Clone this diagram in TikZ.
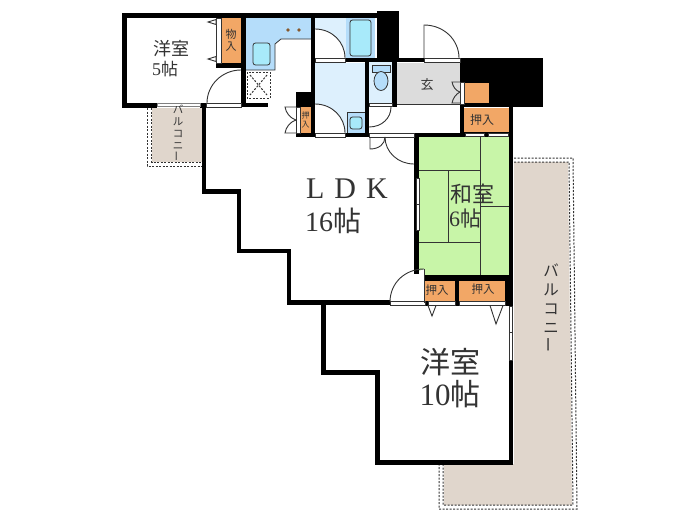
\documentclass[tikz,border=0pt]{standalone}
\usepackage{graphicx}
\usepackage{fontspec}
\setmainfont{Liberation Serif}
\newfontfamily\jp{Noto Sans CJK JP}
\definecolor{orangeC}{HTML}{F2A766}
\definecolor{kitchenC}{HTML}{B5DDFA}
\definecolor{paleC}{HTML}{DDF0FD}
\definecolor{cyanC}{HTML}{A8EAFA}
\definecolor{genkanC}{HTML}{DCDCDC}
\definecolor{balconyC}{HTML}{E0D6CC}
\definecolor{tatamiC}{HTML}{C8F5A8}
\definecolor{inkC}{HTML}{333333}
\tikzset{
  wall/.style={fill=black},
  opening/.style={fill=white,draw=inkC,line width=.6pt},
  glass/.style={fill=white,draw=gray,line width=.6pt},
  leaf/.style={draw=inkC,line width=.9pt},
  thinline/.style={draw=inkC,line width=.8pt},
  dots/.style={draw=inkC,line width=1pt,dash pattern=on 2pt off 1.5pt},
  roomlabel/.style={text=inkC,inner sep=0pt,align=center},
  fixture/.style={draw=inkC,line width=.8pt,rounded corners=2.5pt,fill=cyanC},
  tatamiline/.style={draw=inkC,line width=.7pt}
}
\begin{document}
\begin{tikzpicture}[x=1pt,y=-1pt]
\useasboundingbox (0,0) rectangle (700,525);
\fill[white] (0,0) rectangle (700,525);
% balconies
\fill[balconyC] (152,108) rectangle (202,162);
\draw[dots] (147,108) -- (147,166) -- (202,166);
\draw[dots] (151.5,108) -- (151.5,162) -- (202,162);
\fill[balconyC] (514,162) -- (568,162) -- (572,505) -- (444,505) -- (444,464) -- (514,464) -- cycle;
\draw[dots] (514,158) -- (573,158) -- (577,509) -- (439,509) -- (439,465);
\draw[dots] (514,162) -- (569,162) -- (573,505) -- (443,505) -- (443,465);
% pale rooms and fills
\fill[kitchenC] (246,18) -- (311,18) -- (311,39) -- (281,39) -- (275,44) -- (275,70) -- (246,70) -- cycle;
\draw[thinline] (311,39) -- (281,39) -- (275,44) -- (275,70) -- (246,70);
\fill[paleC] (315,18) rectangle (346,58);
\fill[kitchenC] (346,18) rectangle (375,58);
\fill[paleC] (315,63) rectangle (365,133);
\fill[paleC] (369,62) rectangle (392,104);
\fill[genkanC] (397,63) rectangle (460,104);
\draw[thinline] (397,104.5) -- (460,104.5);
\fill[tatamiC] (419,137) rectangle (509,275);
\fill[orangeC] (221,18) rectangle (241,63);
\fill[orangeC] (300,107) rectangle (311,133);
\fill[orangeC] (464,108) rectangle (509,132);
\fill[orangeC] (425,281) rectangle (455,301);
\fill[orangeC] (459,281) rectangle (509,301);
% door swing interiors
\fill[white] (315,29) .. controls (332,29) and (345,42) .. (345,58) -- (315,58) -- cycle;
\fill[white] (315,104) .. controls (332,104) and (345,117) .. (345,133) -- (315,133) -- cycle;
% tatami lines
\draw[tatamiline] (480,137) -- (480,275);
\draw[tatamiline] (419,170) -- (480,170);
\draw[tatamiline] (419,242) -- (480,242);
\draw[tatamiline] (448,170) -- (448,242);
\draw[tatamiline] (480,206) -- (509,206);
% fixtures
\draw[fixture] (253,43) rectangle (270,65);
\fill[brown!70!black] (288,30) circle (1.8pt);
\fill[brown!70!black] (299,30) circle (1.8pt);
\draw[fixture] (350,20) rectangle (371,56);
\fill[kitchenC] (347,112) rectangle (365,133);
\draw[thinline] (347,112) rectangle (365,133);
\draw[fixture] (350,117) rectangle (362,129);
\fill[kitchenC,draw=inkC,line width=.6pt] (372,65) rectangle (390,72);
\fill[kitchenC,draw=inkC,line width=.8pt] (381,81) ellipse (7pt and 9.5pt);
% utility pan
\draw[dots] (247,72) rectangle (270,98);
\draw[dots] (250,75) -- (267,95);
\draw[dots] (267,75) -- (250,95);
% walls
\fill[wall] (122,13) rectangle (377,18);
\fill[wall] (122,13) rectangle (127,108);
\fill[wall] (122,103) rectangle (157,108);
\fill[wall] (200,103) rectangle (206,108);
\fill[wall] (216,63) rectangle (241,67.5);
\fill[wall] (241,18) rectangle (246,107);
\fill[wall] (241,103) rectangle (268,107);
\fill[wall] (202,107) rectangle (206,194);
\fill[wall] (202,189) rectangle (241,194);
\fill[wall] (237,189) rectangle (241,253);
\fill[wall] (237,249) rectangle (291,253);
\fill[wall] (287,249) rectangle (291,305);
\fill[wall] (287,300) rectangle (390,305);
\fill[wall] (321,305) rectangle (326,375);
\fill[wall] (321,370) rectangle (380,375);
\fill[wall] (375,370) rectangle (380,464);
\fill[wall] (375,460) rectangle (513,464.5);
\fill[wall] (311,18) rectangle (315,137);
\fill[wall] (296,92) rectangle (315,107);
\fill[wall] (296,107) rectangle (300,137);
\fill[wall] (296,133) rectangle (315,137);
\fill[wall] (377,11) rectangle (399,62);
\fill[wall] (345,58) rectangle (424,62);
\fill[wall] (345,133) rectangle (369,137);
\fill[wall] (365,62) rectangle (369,137);
\fill[wall] (392,60) rectangle (397,107);
\fill[wall] (460,58) rectangle (543,107);
\fill[wall] (460,104) rectangle (464,137);
\fill[wall] (414,133) rectangle (464,137);
\fill[wall] (414,133) rectangle (419,274);
\fill[wall] (509,107) rectangle (513,464);
\fill[wall] (464,132) rectangle (509,137);
\fill[wall] (424,275) rectangle (513,281);
\fill[wall] (425,301) rectangle (513,305.5);
\fill[wall] (455,281) rectangle (459,305);
\fill[wall] (505,281) rectangle (509,305);
% orange closet inside black block
\fill[orangeC] (464,83) rectangle (489,103);
% openings
\draw[opening] (216,18) rectangle (221,63);
\draw[glass] (157,103.5) rectangle (200,106.5);
\draw[opening] (206,103.5) rectangle (241,107);
\draw[opening] (315,58.5) rectangle (345,62);
\draw[opening] (424,58.5) rectangle (460,62);
\draw[opening] (315,133.5) rectangle (345,137);
\draw[opening] (369,103.5) rectangle (392,106.5);
\draw[opening] (369,133.5) rectangle (414,137);
\draw[opening] (460,82) rectangle (464,104);
\draw[opening] (465,133.5) rectangle (484,136.5);
\draw[opening] (488,133.5) rectangle (508,136.5);
\draw[opening] (416.5,178) rectangle (419,204);
\draw[opening] (416.5,204) rectangle (419,230);
\draw[opening] (390,301.5) rectangle (425,305);
\draw[opening] (428,301.5) rectangle (455,305);
\draw[opening] (459,301.5) rectangle (505,305);
\draw[opening] (509.5,306) rectangle (512.5,332);
\draw[opening] (509.5,332) rectangle (512.5,360);
\draw[opening] (296,107) rectangle (300,133);
\fill[white] (419,271) -- (424,269) -- (424,276) -- (419,276) -- cycle;
% doors
\draw[leaf] (207,103) .. controls (207,85) and (222,70) .. (241,70);
\draw[leaf] (315,29) .. controls (332,29) and (345,42) .. (345,58);
\draw[leaf] (315,104) .. controls (332,104) and (345,117) .. (345,133);
\draw[leaf] (369,127) .. controls (382,127) and (391,118) .. (391,107);
\draw[leaf] (424,58) -- (424,25) .. controls (444,25) and (459,40) .. (459,58);
\draw[leaf] (370,137) -- (370,149) .. controls (379,149) and (385,144) .. (385,137);
\draw[leaf] (385,137) .. controls (385,152) and (398,164) .. (414,164);
\draw[leaf] (424,269) -- (424,303);
\draw[leaf] (390,302) .. controls (390,283) and (405,269) .. (424,269);
\draw[leaf] (460,82) -- (452,82) .. controls (453,87) and (456,91) .. (460,92);
\draw[leaf] (460,103) -- (452,103) .. controls (453,98) and (456,94) .. (460,92);
\draw[leaf] (296,107) -- (285,107) .. controls (286,113) and (290,118) .. (296,120);
\draw[leaf] (296,133) -- (285,133) .. controls (286,127) and (290,122) .. (296,120);
% catches
\draw[leaf,fill=white] (208,22) -- (216,19.5) -- (216,24.5) -- cycle;
\draw[leaf,fill=white] (208,59) -- (216,56.5) -- (216,61.5) -- cycle;
\draw[leaf,fill=white] (432,316) -- (428,305.5) -- (436,305.5) -- cycle;
\draw[leaf,fill=white] (496,324) -- (490,305.5) -- (503,305.5) -- cycle;
% labels
\node[roomlabel,font=\jp\fontsize{18}{18}\selectfont] (westS) at (171,49) {洋室};
\node[roomlabel,font=\fontsize{18}{18}\selectfont,anchor=west] (westSn) at (152,69) {5{\jp\fontsize{17}{17}\selectfont 帖}};
\node[roomlabel,font=\jp\fontsize{11}{12}\selectfont] (storeA) at (231,40) {物\\入};
\node[roomlabel,font=\jp\fontsize{8}{9}\selectfont] (storeB) at (305.5,120) {押\\入};
\node[roomlabel,font=\jp\fontsize{13}{13}\selectfont] (genkan) at (427,85) {玄};
\node[roomlabel,font=\jp\fontsize{12}{12}\selectfont] (storeC) at (482,120) {押入};
\node[roomlabel,font=\fontsize{30}{30}\selectfont] (ldk) at (347,189) {L\hspace{10pt}D\hspace{10pt}K};
\node[roomlabel,font=\fontsize{28}{28}\selectfont] (ldkn) at (333,221) {16{\jp\fontsize{28}{28}\selectfont 帖}};
\node[roomlabel,font=\jp\fontsize{22}{22}\selectfont] (washi) at (472,194) {和室};
\node[roomlabel,font=\fontsize{22}{22}\selectfont] (washin) at (465,219) {6{\jp\fontsize{21}{21}\selectfont 帖}};
\node[roomlabel,font=\jp\fontsize{11.5}{11.5}\selectfont] (storeD) at (437,290) {押入};
\node[roomlabel,font=\jp\fontsize{11.5}{11.5}\selectfont] (storeE) at (483,289) {押入};
\node[roomlabel,font=\jp\fontsize{30}{30}\selectfont] (westL) at (450,362) {洋室};
\node[roomlabel,font=\fontsize{31}{31}\selectfont] (westLn) at (450,394) {10{\jp\fontsize{30}{30}\selectfont 帖}};
\node[roomlabel,font=\jp\fontsize{15.5}{19}\selectfont] (balL) at (551,308) {バ\\ル\\コ\\ニ\\\rotatebox{90}{ー}};
\node[roomlabel,font=\jp\fontsize{10.5}{12}\selectfont] (balS) at (178,133) {バ\\ル\\コ\\ニ\\\rotatebox{90}{ー}};
\end{tikzpicture}
\end{document}
